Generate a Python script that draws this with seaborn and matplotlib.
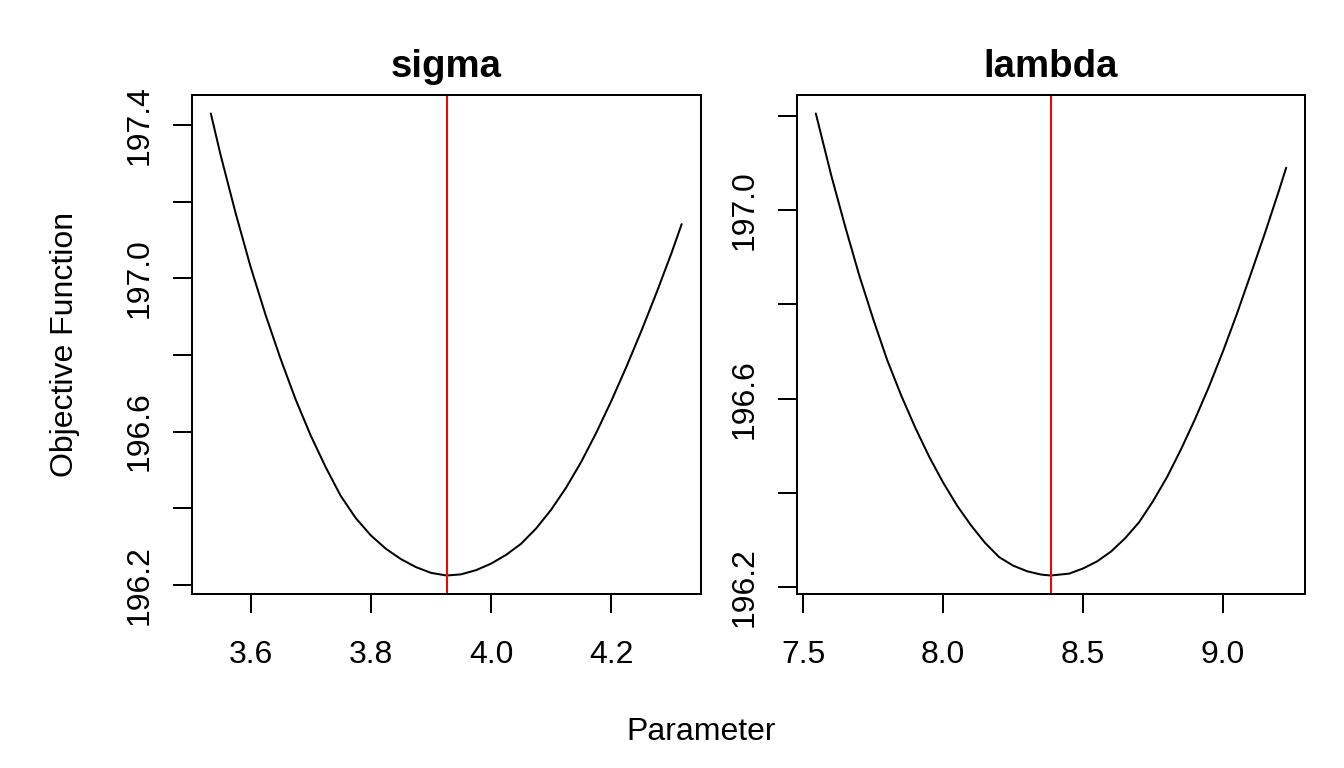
import matplotlib
matplotlib.use("Agg")
import matplotlib.pyplot as plt
import seaborn as sns
import pandas as pd

# ---- data ----
panel_titles = ["sigma", "lambda"]

sigma_x = [3.534, 3.55, 3.575, 3.60, 3.625, 3.65, 3.675, 3.70, 3.725, 3.75,
           3.775, 3.80, 3.825, 3.85, 3.875, 3.90, 3.926, 3.95, 3.975, 4.00,
           4.025, 4.05, 4.075, 4.10, 4.125, 4.15, 4.175, 4.20, 4.225, 4.25,
           4.275, 4.30, 4.317]
sigma_obj = [197.431, 197.324, 197.172, 197.031, 196.905, 196.790, 196.684,
             196.590, 196.507, 196.432, 196.374, 196.329, 196.294, 196.267,
             196.246, 196.231, 196.224, 196.227, 196.238, 196.255, 196.278,
             196.307, 196.347, 196.396, 196.454, 196.521, 196.597, 196.680,
             196.769, 196.863, 196.962, 197.066, 197.142]
sigma_opt = 3.926

lambda_x = [7.545, 7.6, 7.65, 7.7, 7.75, 7.8, 7.85, 7.9, 7.95, 8.0, 8.05,
            8.1, 8.15, 8.2, 8.25, 8.3, 8.35, 8.3835, 8.45, 8.5, 8.55, 8.6,
            8.65, 8.7, 8.75, 8.8, 8.85, 8.9, 8.95, 9.0, 9.05, 9.1, 9.15,
            9.2, 9.2255]
lambda_obj = [197.205, 197.074, 196.965, 196.862, 196.769, 196.682, 196.607,
              196.539, 196.477, 196.422, 196.373, 196.331, 196.294, 196.264,
              196.246, 196.234, 196.227, 196.225, 196.229, 196.240, 196.255,
              196.276, 196.304, 196.338, 196.383, 196.434, 196.493, 196.557,
              196.626, 196.701, 196.781, 196.866, 196.952, 197.042, 197.090]
lambda_opt = 8.3835

sigma_xticks = [3.6, 3.8, 4.0, 4.2]
lambda_xticks = [7.5, 8.0, 8.5, 9.0]
y_ticks = [196.2, 196.4, 196.6, 196.8, 197.0, 197.2, 197.4]
sigma_ylabeled = [196.2, 196.6, 197.0, 197.4]
lambda_ylabeled = [196.2, 196.6, 197.0]

x_label = "Parameter"
y_label = "Objective Function"

# ---- style ----
sns.set_style("white")
plt.rcParams["font.family"] = ["Liberation Sans", "DejaVu Sans"]
plt.rcParams["text.color"] = "black"
plt.rcParams["axes.labelcolor"] = "black"
plt.rcParams["xtick.color"] = "black"
plt.rcParams["ytick.color"] = "black"

W, H = 1344, 768
fig = plt.figure(figsize=(W / 100, H / 100), dpi=100)


def rect(l, t, r, b):
    return [l / W, 1 - b / H, (r - l) / W, (b - t) / H]


LW = 1.44
TICK_LEN = 13.8
FS = 23
TITLE_FS = 27.6

panels = [
    (rect(192, 95, 700.5, 594), sigma_x, sigma_obj, sigma_opt, sigma_xticks, sigma_ylabeled, panel_titles[0]),
    (rect(797, 95, 1305, 594), lambda_x, lambda_obj, lambda_opt, lambda_xticks, lambda_ylabeled, panel_titles[1]),
]

for pos, xs, ys, opt, xt, ylab, title in panels:
    ax = fig.add_axes(pos)
    df = pd.DataFrame({"param": xs, "obj": ys})
    sns.lineplot(data=df, x="param", y="obj", ax=ax, color="black",
                 linewidth=LW, estimator=None, sort=False)
    ax.axvline(opt, color="#FF0000", linewidth=LW)

    # R-style 4% axis padding
    xr = max(xs) - min(xs)
    yr = max(ys) - min(ys)
    ax.set_xlim(min(xs) - 0.04 * xr, max(xs) + 0.04 * xr)
    ax.set_ylim(min(ys) - 0.04 * yr, max(ys) + 0.04 * yr)

    ax.set_xticks(xt)
    ax.set_xticklabels([f"{v:.1f}" for v in xt])
    yt = [v for v in y_ticks if ax.get_ylim()[0] <= v <= ax.get_ylim()[1]]
    ax.set_yticks(yt)
    ax.set_yticklabels([f"{v:.1f}" if any(abs(v - u) < 1e-9 for u in ylab) else "" for v in yt],
                       rotation=90, va="center")

    ax.set_xlabel("")
    ax.set_ylabel("")
    for s in ax.spines.values():
        s.set_visible(True)
        s.set_color("black")
        s.set_linewidth(LW)
    ax.tick_params(axis="both", which="major", direction="out", length=TICK_LEN,
                   width=LW, color="black", labelcolor="black", labelsize=FS)
    ax.tick_params(axis="x", bottom=True, top=False, pad=19)
    ax.tick_params(axis="y", left=True, right=False, pad=13)
    ax.set_title(title, fontsize=TITLE_FS, fontweight="bold", pad=13, color="black")
    ax.grid(False)

fig.text(700.7 / W, 1 - 740 / H, x_label, ha="center", va="baseline", fontsize=FS, color="black")
fig.text(80 / W, 1 - 344.5 / H, y_label, rotation=90, ha="right", va="center", fontsize=FS, color="black")

fig.savefig("out.png", dpi=100, facecolor="white")
